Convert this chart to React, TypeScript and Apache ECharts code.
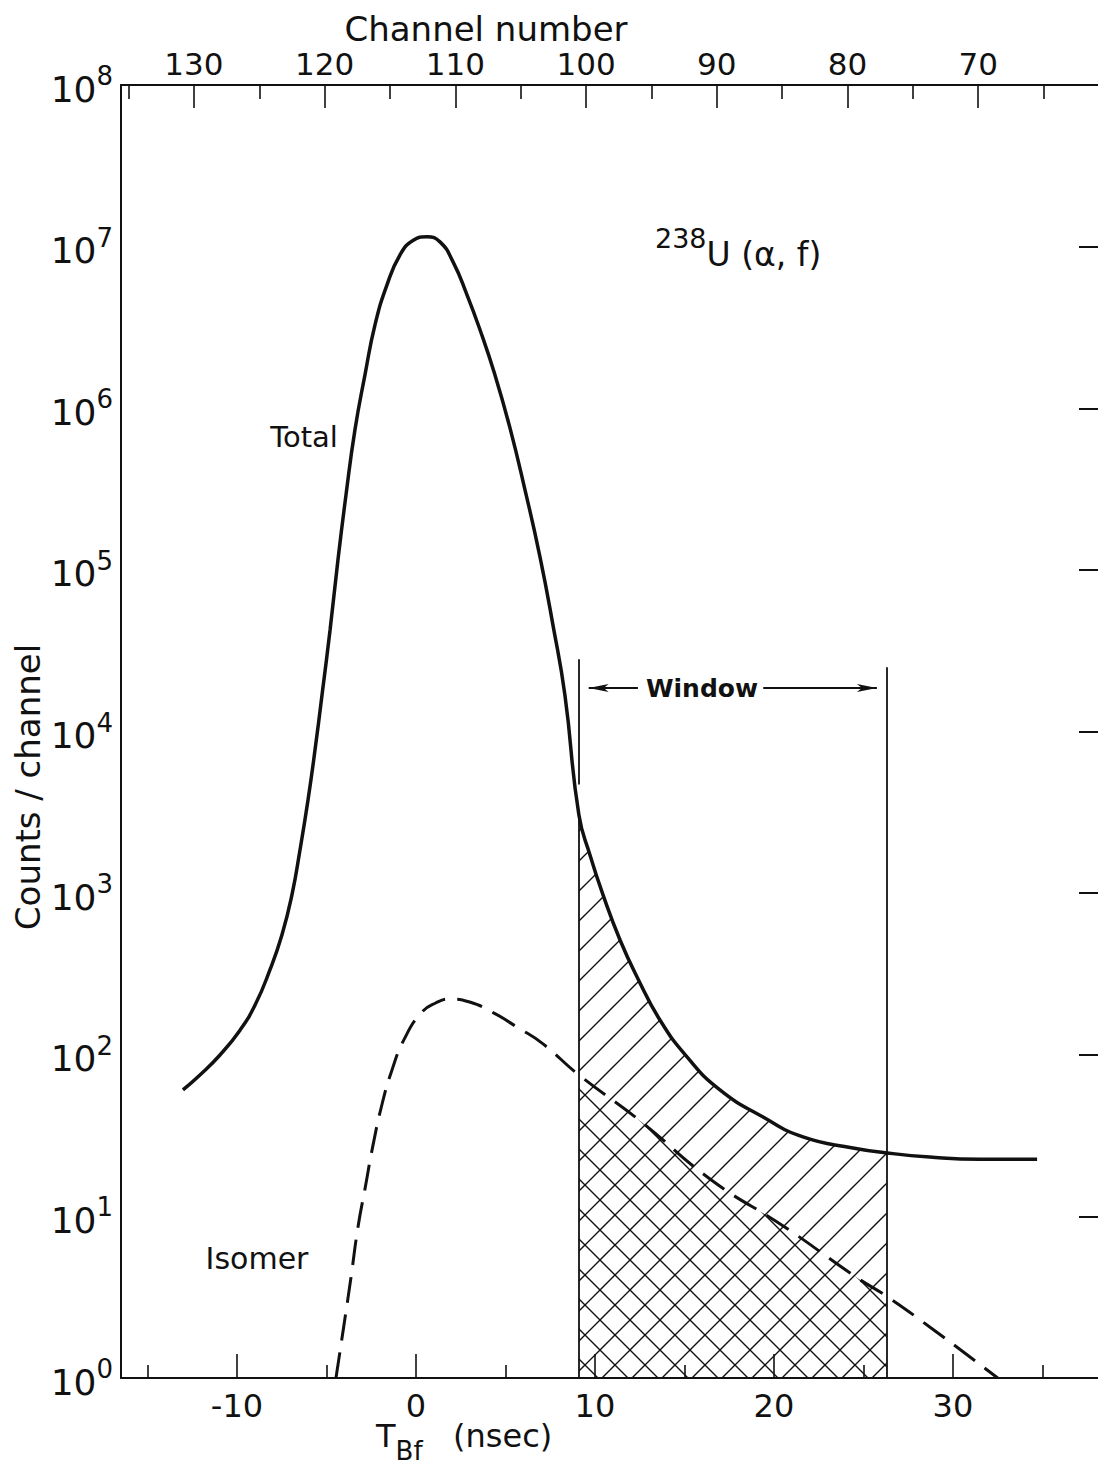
import React, { useEffect, useRef } from "react";
import * as echarts from "echarts";

// ---- Data ----
// Total fission time spectrum: T_Bf (nsec) and counts / channel
const totalT = [-13.02, -12.07, -10.95, -9.83, -8.99, -8.16, -7.49, -6.93, -6.48, -6.03, -5.64, -5.25, -4.8, -4.36, -3.91, -3.41, -2.85, -2.29, -1.62, -0.89, -0.17, 0.61, 1.34, 2.07, 2.85, 3.58, 4.41, 5.25, 6.09, 6.93, 7.65, 8.32, 9.1, 9.72, 10.45, 11.4, 12.35, 13.63, 15.14, 16.98, 19.39, 21.62, 24.41, 26.3, 28.7, 31.5, 34.7];
const totalCounts = [60.6, 75, 99.7, 142, 203, 335, 551, 975, 1850, 3780, 7700, 16800, 42500, 115000, 291000, 735000, 1.61e6, 3.28e6, 5.8e6, 8.9e6, 1.09e7, 1.15e7, 1.07e7, 8.05e6, 5.03e6, 3.05e6, 1.61e6, 7.56e5, 3.13e5, 1.2e5, 45700, 16800, 3050, 1722, 975, 513, 303, 164, 97, 60.6, 41.2, 31.0, 26.5, 24.7, 23.3, 22.6, 22.6];

// Isomer (delayed) component
const isomerT = [-4.47, -4.04, -3.63, -3.24, -2.83, -2.42, -1.88, -1.34, -0.67, 0.28, 1.1, 1.9, 3.0, 4.36, 5.7, 7.04, 9.1, 12.46, 16.5, 20.6, 24.6, 26.3, 28.7, 32.5];
const isomerCounts = [1.0, 2.07, 4.2, 8.6, 15.2, 26.9, 50.3, 80.5, 124, 181, 209, 221, 212, 181, 147, 118, 75, 39.5, 16.8, 8.6, 4.2, 3.2, 2.07, 1.0];

// Axes
const nsecRange = [-16.48, 38.27];
const nsecTicks = [-10, 0, 10, 20, 30];
const nsecMinorTicks = [-15, -5, 5, 15, 25, 35];
const channelRange = [60.6, 135.58];
const channelTicks = [70, 80, 90, 100, 110, 120, 130];
const channelMinorTicks = [65, 75, 85, 95, 105, 115, 125, 135];
const countRange = [1, 1e8];

// Time window
const windowStart = 9.1;
const windowEnd = 26.3;
const windowArrowLevel = 18600;
const windowLeftTop = 28000;
const windowLeftLow = 4700;
const windowRightTop = 25000;
const windowTextLeft = 12.4;
const windowTextRight = 19.4;

const FONT = '"DejaVu Sans", "Noto Sans", sans-serif';
const INK = "#111";

function hatchPattern(dir: number) {
  const size = 30;
  const c = document.createElement("canvas");
  c.width = size;
  c.height = size;
  const g = c.getContext("2d")!;
  g.strokeStyle = INK;
  g.lineWidth = 1.4;
  g.beginPath();
  if (dir > 0) {
    g.moveTo(-3, size + 3);
    g.lineTo(size + 3, -3);
    g.moveTo(-3, 3);
    g.lineTo(3, -3);
    g.moveTo(size - 3, size + 3);
    g.lineTo(size + 3, size - 3);
  } else {
    g.moveTo(-3, -3);
    g.lineTo(size + 3, size + 3);
    g.moveTo(size - 3, -3);
    g.lineTo(size + 3, 3);
    g.moveTo(-3, size - 3);
    g.lineTo(3, size + 3);
  }
  g.stroke();
  return { image: c, repeat: "repeat", imageWidth: size, imageHeight: size } as any;
}

export default function App() {
  const ref = useRef<HTMLDivElement>(null);

  useEffect(() => {
    if (!ref.current) return;
    const chart = echarts.init(ref.current, undefined, { renderer: "svg" });

    const totalData = totalT.map((t, i) => [t, totalCounts[i]]);
    const isomerData = isomerT.map((t, i) => [t, isomerCounts[i]]);
    const inWindow = (d: number[]) => d[0] >= windowStart && d[0] <= windowEnd;
    const totalAtStart = totalCounts[totalT.indexOf(windowStart)];
    const arrowPull = 0.55;
    const SMOOTH = 0.5;

    const bottomAxisBase = {
      type: "value",
      position: "bottom",
      min: nsecRange[0],
      max: nsecRange[1],
      splitLine: { show: false },
    };
    const topAxisBase = {
      type: "value",
      position: "top",
      inverse: true,
      min: channelRange[0],
      max: channelRange[1],
      splitLine: { show: false },
    };

    const option: any = {
      animation: false,
      backgroundColor: "#fff",
      grid: { left: 121, top: 85, right: -3, bottom: 90, containLabel: false, outerBoundsMode: "none" },
      xAxis: [
        {
          ...bottomAxisBase,
          axisLine: { show: true, onZero: false, lineStyle: { color: INK, width: 2 } },
          axisTick: { show: true, inside: true, length: 24, customValues: nsecTicks, lineStyle: { color: INK, width: 1.6 } },
          axisLabel: { show: true, customValues: nsecTicks, fontSize: 32, margin: 12, color: INK, fontFamily: FONT },
        },
        {
          ...bottomAxisBase,
          axisLine: { show: false, onZero: false },
          axisTick: { show: true, inside: true, length: 13, customValues: nsecMinorTicks, lineStyle: { color: INK, width: 1.6 } },
          axisLabel: { show: false },
        },
        {
          ...topAxisBase,
          axisLine: { show: true, onZero: false, lineStyle: { color: INK, width: 2 } },
          axisTick: { show: true, inside: true, length: 23, customValues: channelTicks, lineStyle: { color: INK, width: 1.6 } },
          axisLabel: { show: true, customValues: channelTicks, fontSize: 31, margin: 6, color: INK, fontFamily: FONT },
        },
        {
          ...topAxisBase,
          axisLine: { show: false, onZero: false },
          axisTick: { show: true, inside: true, length: 14, customValues: channelMinorTicks, lineStyle: { color: INK, width: 1.6 } },
          axisLabel: { show: false },
        },
      ],
      yAxis: [
        {
          type: "log",
          logBase: 10,
          position: "left",
          min: countRange[0],
          max: countRange[1],
          splitNumber: 8,
          splitLine: { show: false },
          axisLine: { show: true, onZero: false, lineStyle: { color: INK, width: 2 } },
          axisTick: { show: false },
          axisLabel: {
            show: true,
            margin: 8,
            formatter: (v: number) => `{b|10}{s|${Math.round(Math.log10(v))}}`,
            rich: {
              b: { fontSize: 36, lineHeight: 44, verticalAlign: "bottom", fontFamily: FONT, color: INK },
              s: { fontSize: 26, lineHeight: 26, verticalAlign: "top", fontFamily: FONT, color: INK },
            },
          },
        },
        {
          type: "log",
          logBase: 10,
          position: "right",
          min: countRange[0],
          max: countRange[1],
          splitNumber: 8,
          splitLine: { show: false },
          axisLine: { show: true, onZero: false, lineStyle: { color: INK, width: 2 } },
          axisTick: { show: true, inside: true, length: 22, lineStyle: { color: INK, width: 2 } },
          axisLabel: { show: false },
        },
      ],
      series: [
        {
          name: "Window total",
          type: "line",
          xAxisIndex: 0,
          yAxisIndex: 0,
          data: totalData.filter(inWindow),
          smooth: SMOOTH,
          showSymbol: false,
          silent: true,
          lineStyle: { width: 0, opacity: 0 },
          areaStyle: { color: hatchPattern(1), opacity: 1, origin: "start" },
          markLine: {
            silent: true,
            symbol: ["none", "none"],
            label: { show: false },
            lineStyle: { color: INK, type: "solid", width: 1.8 },
            emphasis: { disabled: true },
            data: [
              [{ coord: [windowStart, countRange[0]] }, { coord: [windowStart, totalAtStart] }],
              [{ coord: [windowStart, windowLeftLow] }, { coord: [windowStart, windowLeftTop] }],
              [{ coord: [windowEnd, countRange[0]] }, { coord: [windowEnd, windowRightTop] }],
              [
                { coord: [windowTextLeft, windowArrowLevel] },
                { coord: [windowStart + arrowPull, windowArrowLevel], symbol: "arrow", symbolSize: [6, 20] },
              ],
              [
                { coord: [windowTextRight, windowArrowLevel] },
                { coord: [windowEnd - arrowPull, windowArrowLevel], symbol: "arrow", symbolSize: [6, 20] },
              ],
            ],
          },
        },
        {
          name: "Window isomer",
          type: "line",
          xAxisIndex: 0,
          yAxisIndex: 0,
          data: isomerData.filter(inWindow),
          smooth: SMOOTH,
          showSymbol: false,
          silent: true,
          lineStyle: { width: 0, opacity: 0 },
          areaStyle: { color: hatchPattern(-1), opacity: 1, origin: "start" },
        },
        {
          name: "Total",
          type: "line",
          xAxisIndex: 0,
          yAxisIndex: 0,
          data: totalData,
          smooth: SMOOTH,
          showSymbol: false,
          silent: true,
          lineStyle: { color: INK, width: 3.5 },
        },
        {
          name: "Isomer",
          type: "line",
          xAxisIndex: 0,
          yAxisIndex: 0,
          data: isomerData,
          smooth: SMOOTH,
          showSymbol: false,
          silent: true,
          lineStyle: { color: INK, width: 3, type: [26, 12] },
        },
      ],
      graphic: [
        {
          type: "text",
          x: 486,
          y: 29,
          style: { text: "Channel number", fontSize: 34, fontFamily: FONT, fill: INK, align: "center", verticalAlign: "middle" },
        },
        {
          type: "text",
          x: 28,
          y: 787,
          rotation: Math.PI / 2,
          style: { text: "Counts / channel", fontSize: 34, fontFamily: FONT, fill: INK, align: "center", verticalAlign: "middle" },
        },
        {
          type: "text",
          x: 304,
          y: 437,
          style: { text: "Total", fontSize: 29, fontFamily: FONT, fill: INK, align: "center", verticalAlign: "middle" },
        },
        {
          type: "text",
          x: 257,
          y: 1258,
          style: { text: "Isomer", fontSize: 30, fontFamily: FONT, fill: INK, align: "center", verticalAlign: "middle" },
        },
        {
          type: "text",
          x: 702,
          y: 688,
          style: { text: "Window", fontSize: 25, fontWeight: "bold", fontFamily: FONT, fill: INK, align: "center", verticalAlign: "middle" },
        },
        {
          type: "text",
          x: 655,
          y: 248,
          style: {
            text: "{s|238}{b|U (α, f)}",
            align: "left",
            verticalAlign: "middle",
            rich: {
              s: { fontSize: 27, lineHeight: 28, verticalAlign: "top", fontFamily: FONT, fill: INK, color: INK },
              b: { fontSize: 33, lineHeight: 46, verticalAlign: "bottom", fontFamily: FONT, fill: INK, color: INK },
            },
          },
        },
        {
          type: "text",
          x: 376,
          y: 1442,
          style: {
            text: "{b|T}{sub|Bf}{b|   (nsec)}",
            align: "left",
            verticalAlign: "middle",
            rich: {
              b: { fontSize: 32, lineHeight: 44, verticalAlign: "top", fontFamily: FONT, fill: INK, color: INK },
              sub: { fontSize: 26, lineHeight: 28, verticalAlign: "bottom", fontFamily: FONT, fill: INK, color: INK },
            },
          },
        },
      ],
    };

    chart.setOption(option);
    return () => chart.dispose();
  }, []);

  return (
    <div
      ref={ref}
      style={{ position: "absolute", left: 0, top: 0, width: 1098, height: 1468, background: "#fff" }}
    />
  );
}
